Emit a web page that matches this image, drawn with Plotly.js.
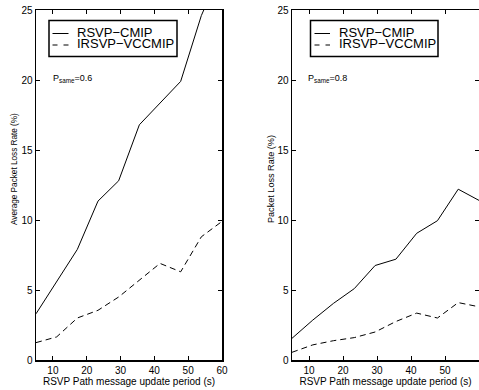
<!DOCTYPE html>
<html>
<head>
<meta charset="utf-8">
<script src="https://cdn.plot.ly/plotly-3.0.1.min.js"></script>
<style>html,body{margin:0;padding:0;background:#fff;}#chart{width:479px;height:390px;}</style>
</head>
<body>
<div id="chart"></div>
<script>
// Update period (s)
const period = [5, 11.11, 17.22, 23.33, 29.44, 35.56, 41.67, 47.78, 53.89, 60];
// Left panel, P_same = 0.6 (Average Packet Loss Rate %)
const cmip06 = [3.3, 5.6, 7.9, 11.35, 12.8, 16.8, 18.35, 19.9, 24.6, 28.0];
const vccmip06 = [1.24, 1.65, 3.0, 3.55, 4.5, 5.7, 6.9, 6.3, 8.8, 9.9];
// Right panel, P_same = 0.8 (Packet Loss Rate %)
const cmip08 = [1.55, 2.85, 4.05, 5.1, 6.75, 7.2, 9.05, 9.95, 12.2, 11.4];
const vccmip08 = [0.55, 1.08, 1.38, 1.6, 2.0, 2.75, 3.35, 3.0, 4.1, 3.8];
const seriesNames = ['RSVP\u2212CMIP', 'IRSVP\u2212VCCMIP'];
const xTicks = [10, 20, 30, 40, 50, 60];
const yTicks = [0, 5, 10, 15, 20, 25];
const xTitle = 'RSVP Path message update period (s)';
const yTitleLeft = 'Average Packet Loss Rate (%)';
const yTitleRight = 'Packet Loss Rate (%)';
const pLabels = ['P<sub>same</sub>=0.6', 'P<sub>same</sub>=0.8'];

const W = 479, H = 390, T = 10, B = 30;
const PH = H - T - B;
const px = v => v / W;
const py = v => (H - B - v) / PH;
const FONT = 'Liberation Sans, Arial, Helvetica, sans-serif';

const solid = {color: '#000', width: 1};
const dashed = {color: '#000', width: 1, dash: '6px,4px'};

const traces = [
  {x: period, y: cmip06, mode: 'lines', line: solid, xaxis: 'x', yaxis: 'y', name: seriesNames[0], showlegend: false},
  {x: period, y: vccmip06, mode: 'lines', line: dashed, xaxis: 'x', yaxis: 'y', name: seriesNames[1], showlegend: false},
  {x: period, y: cmip08, mode: 'lines', line: solid, xaxis: 'x2', yaxis: 'y2', name: seriesNames[0], showlegend: false},
  {x: period, y: vccmip08, mode: 'lines', line: dashed, xaxis: 'x2', yaxis: 'y2', name: seriesNames[1], showlegend: false}
];

function xa(domain, anchor) {
  return {domain: domain, anchor: anchor, range: [5, 60], tickvals: xTicks, ticks: 'inside', ticklen: 4,
    tickcolor: '#000', showline: true, linecolor: '#000', linewidth: 1.5, mirror: 'ticks', showgrid: false,
    zeroline: false, tickfont: {family: FONT, size: 10, color: '#000'},
    title: {text: xTitle, font: {family: FONT, size: 10, color: '#000'}, standoff: 2}};
}
function ya(anchor) {
  return {domain: [0, 1], anchor: anchor, range: [0, 25], tickvals: yTicks, ticks: 'inside', ticklen: 4,
    tickcolor: '#000', showline: true, linecolor: '#000', linewidth: 1.5, mirror: 'ticks', showgrid: false,
    zeroline: false, tickfont: {family: FONT, size: 10, color: '#000'}};
}

// Legend boxes (custom, drawn in paper coords)
function legend(x0, x1, y0, y1, lx0, lx1, tx) {
  const shapes = [
    {type: 'rect', xref: 'paper', yref: 'paper', x0: px(x0), x1: px(x1), y0: py(y1), y1: py(y0),
      line: {color: '#000', width: 1.5}, fillcolor: '#fff'},
    {type: 'line', xref: 'paper', yref: 'paper', x0: px(lx0), x1: px(lx1), y0: py(y0 + 13), y1: py(y0 + 13), line: solid},
    {type: 'line', xref: 'paper', yref: 'paper', x0: px(lx0), x1: px(lx1), y0: py(y0 + 24.5), y1: py(y0 + 24.5), line: {color: '#000', width: 1, dash: '5px,6px'}}
  ];
  const ann = [
    {xref: 'paper', yref: 'paper', x: px(tx), y: py(y0 + 12), xanchor: 'left', yanchor: 'middle', showarrow: false,
      text: seriesNames[0], font: {family: FONT, size: 13, color: '#000'}},
    {xref: 'paper', yref: 'paper', x: px(tx), y: py(y0 + 23.3), xanchor: 'left', yanchor: 'middle', showarrow: false,
      text: seriesNames[1], font: {family: FONT, size: 13, color: '#000'}}
  ];
  return {shapes, ann};
}
const L1 = legend(49, 177, 20.5, 56.5, 52.5, 68.5, 74.5);
const L2 = legend(310.5, 438, 20.5, 56.5, 314.5, 330, 337);

const annotations = L1.ann.concat(L2.ann).concat([
  {xref: 'paper', yref: 'paper', x: px(51), y: py(78), xanchor: 'left', yanchor: 'middle', showarrow: false,
    text: pLabels[0], font: {family: FONT, size: 9, color: '#000'}},
  {xref: 'paper', yref: 'paper', x: px(306), y: py(78), xanchor: 'left', yanchor: 'middle', showarrow: false,
    text: pLabels[1], font: {family: FONT, size: 9, color: '#000'}},
  {xref: 'paper', yref: 'paper', x: px(14), y: py(169), xanchor: 'center', yanchor: 'middle', showarrow: false,
    textangle: -90, text: yTitleLeft, font: {family: FONT, size: 8.2, color: '#000'}},
  {xref: 'paper', yref: 'paper', x: px(271), y: py(179), xanchor: 'center', yanchor: 'middle', showarrow: false,
    textangle: -90, text: yTitleRight, font: {family: FONT, size: 9.1, color: '#000'}}
]);

const layout = {
  width: W, height: H,
  margin: {l: 0, r: 0, t: T, b: B, pad: 0},
  paper_bgcolor: '#fff', plot_bgcolor: '#fff',
  showlegend: false,
  xaxis: xa([px(36), px(222)], 'y'),
  yaxis: ya('x'),
  xaxis2: xa([px(292), 1], 'y2'),
  yaxis2: ya('x2'),
  shapes: L1.shapes.concat(L2.shapes),
  annotations: annotations
};

Plotly.newPlot('chart', traces, layout, {staticPlot: true, displayModeBar: false});
</script>
</body>
</html>
